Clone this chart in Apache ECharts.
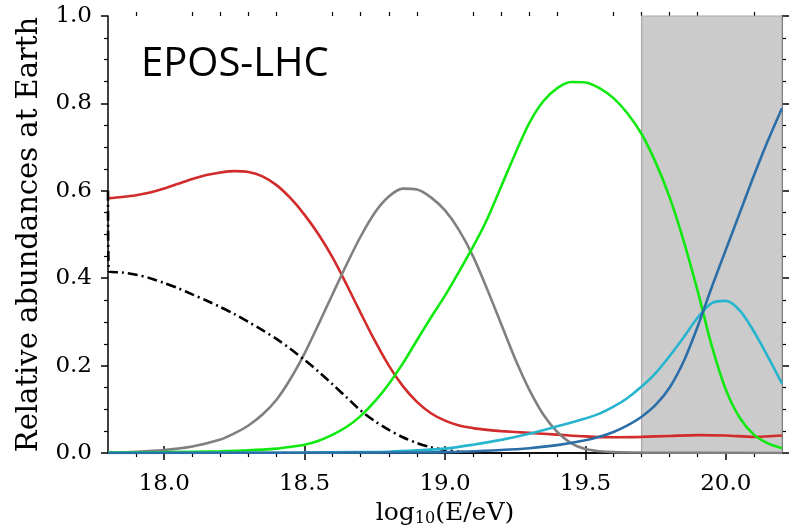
<!DOCTYPE html>
<html>
<head>
<meta charset="utf-8">
<script src="https://cdn.jsdelivr.net/npm/echarts@6/dist/echarts.min.js"></script>
<style>
  html, body { margin: 0; padding: 0; background: #fff; }
  #chart { width: 807px; height: 526px; }
</style>
</head>
<body>
<div id="chart"></div>
<script>
// tick values
const xMajor = [18.0, 18.5, 19.0, 19.5, 20.0];
const xMinor = [17.9, 18.1, 18.2, 18.3, 18.4, 18.6, 18.7, 18.8, 18.9,
  19.1, 19.2, 19.3, 19.4, 19.6, 19.7, 19.8, 19.9, 20.1];
const shadeRange = [19.7, 20.2];

// curves: [log10(E/eV), relative abundance]
const redLine = [[17.8, 0.583], [17.85, 0.586], [17.9, 0.59], [17.95, 0.596], [18.0, 0.605],
  [18.05, 0.616], [18.1, 0.627], [18.15, 0.636], [18.2, 0.642], [18.25, 0.645],
  [18.3, 0.643], [18.35, 0.633], [18.4, 0.613], [18.45, 0.583], [18.5, 0.545],
  [18.55, 0.5], [18.6, 0.447], [18.65, 0.385], [18.7, 0.32], [18.75, 0.257],
  [18.8, 0.2], [18.85, 0.153], [18.9, 0.117], [18.95, 0.091], [19.0, 0.074],
  [19.05, 0.063], [19.1, 0.057], [19.15, 0.053], [19.2, 0.05], [19.3, 0.046],
  [19.4, 0.042], [19.5, 0.038], [19.6, 0.036], [19.7, 0.037], [19.8, 0.039],
  [19.9, 0.041], [20.0, 0.04], [20.1, 0.037], [20.2, 0.04]];
const greyLine = [[17.8, 0.001], [17.9, 0.003], [18.0, 0.007], [18.1, 0.015], [18.2, 0.031],
  [18.25, 0.045], [18.3, 0.063], [18.35, 0.088], [18.4, 0.122], [18.45, 0.17],
  [18.5, 0.228], [18.55, 0.295], [18.6, 0.364], [18.65, 0.432], [18.7, 0.496],
  [18.75, 0.55], [18.8, 0.587], [18.85, 0.605], [18.9, 0.603], [18.95, 0.585],
  [19.0, 0.555], [19.05, 0.51], [19.1, 0.45], [19.15, 0.375], [19.2, 0.295],
  [19.25, 0.215], [19.3, 0.145], [19.35, 0.088], [19.4, 0.048], [19.45, 0.022],
  [19.5, 0.009], [19.55, 0.004], [19.6, 0.002], [19.7, 0.001], [20.2, 0]];
const blackLine = [[17.8, 0.6], [17.803, 0.415], [17.85, 0.413], [17.9, 0.408], [17.95, 0.4],
  [18.0, 0.389], [18.05, 0.377], [18.1, 0.363], [18.15, 0.349], [18.2, 0.334],
  [18.25, 0.318], [18.3, 0.3], [18.35, 0.281], [18.4, 0.261], [18.45, 0.238],
  [18.5, 0.213], [18.55, 0.186], [18.6, 0.157], [18.65, 0.127], [18.7, 0.097],
  [18.75, 0.073], [18.8, 0.053], [18.85, 0.036], [18.9, 0.023], [18.95, 0.013],
  [19.0, 0.007], [19.05, 0.003], [19.1, 0.001]];
const greenLine = [[17.8, 0.001], [18.0, 0.002], [18.2, 0.004], [18.3, 0.006], [18.4, 0.01],
  [18.45, 0.014], [18.5, 0.019], [18.55, 0.028], [18.6, 0.042], [18.65, 0.06],
  [18.7, 0.085], [18.75, 0.118], [18.8, 0.158], [18.85, 0.205], [18.9, 0.258],
  [18.95, 0.31], [19.0, 0.36], [19.05, 0.415], [19.1, 0.472], [19.15, 0.535],
  [19.2, 0.61], [19.25, 0.685], [19.3, 0.755], [19.35, 0.805], [19.4, 0.835],
  [19.45, 0.849], [19.5, 0.848], [19.55, 0.835], [19.6, 0.812], [19.65, 0.777],
  [19.7, 0.73], [19.75, 0.665], [19.8, 0.585], [19.85, 0.485], [19.9, 0.37],
  [19.95, 0.245], [20.0, 0.145], [20.05, 0.08], [20.1, 0.042], [20.15, 0.022], [20.2, 0.011]];
const cyanLine = [[17.8, 0], [18.5, 0.001], [18.7, 0.002], [18.8, 0.003], [18.9, 0.006],
  [19.0, 0.01], [19.1, 0.019], [19.2, 0.03], [19.3, 0.044], [19.4, 0.061],
  [19.5, 0.079], [19.55, 0.09], [19.6, 0.106], [19.65, 0.126], [19.7, 0.152],
  [19.75, 0.183], [19.8, 0.222], [19.85, 0.265], [19.9, 0.31], [19.95, 0.343],
  [20.0, 0.348], [20.05, 0.326], [20.1, 0.278], [20.15, 0.22], [20.2, 0.159]];
const blueLine = [[17.8, 0], [18.8, 0.001], [19.0, 0.002], [19.2, 0.007], [19.3, 0.011],
  [19.4, 0.018], [19.5, 0.029], [19.55, 0.037], [19.6, 0.048], [19.65, 0.063],
  [19.7, 0.083], [19.75, 0.11], [19.8, 0.15], [19.85, 0.21], [19.9, 0.29],
  [19.95, 0.38], [20.0, 0.465], [20.05, 0.55], [20.1, 0.635], [20.15, 0.715], [20.2, 0.789]];

const serif = "DejaVu Serif";
let myChart = echarts.init(document.getElementById("chart"), null, { renderer: "canvas" });

// shared look of the frame axes
const lineAx = { show: true, lineStyle: { color: "#000", width: 1.5 } };
const tickMaj = { show: true, inside: false, length: 7, lineStyle: { color: "#000", width: 1.5 } };
const tickMin = { show: true, inside: false, length: 4, lineStyle: { color: "#000", width: 1.2 } };

function seriesOf(name, data, color, extra) {
  return Object.assign({
    name: name,
    type: "line",
    xAxisIndex: 0,
    yAxisIndex: 0,
    data: data,
    smooth: 0.3,
    showSymbol: false,
    symbol: "none",
    clip: true,
    lineStyle: { color: color, width: 2.6 },
    z: 3,
  }, extra || {});
}

myChart.setOption({
  backgroundColor: "#fff",
  animation: false,
  grid: [
    { left: 108, top: 16, right: 25, bottom: 73, outerBoundsMode: "none" },
    { left: 108, top: 16, right: 25, bottom: 73, outerBoundsMode: "none" },
  ],
  graphic: [{
    type: "text",
    left: 141,
    top: 45,
    style: { text: "EPOS-LHC", font: "40px 'Open Sans'", fill: "#000" },
    z: 10,
  }],
  xAxis: [
    {
      type: "value", gridIndex: 0, position: "bottom", min: 17.8, max: 20.2,
      name: "{a|log}{b|10}{a|(E/eV)}", nameLocation: "middle", nameGap: 42,
      nameTextStyle: {
        rich: {
          a: { fontFamily: serif, fontSize: 25, color: "#000" },
          b: { fontFamily: serif, fontSize: 16, color: "#000", padding: [11, 0, 0, 0] },
        },
      },
      axisLine: lineAx,
      axisTick: Object.assign({ customValues: xMajor }, tickMaj),
      axisLabel: {
        customValues: xMajor, margin: 20, fontFamily: serif, fontSize: 23, color: "#000",
        formatter: (v) => v.toFixed(1),
      },
      splitLine: { show: false },
    },
    {
      type: "value", gridIndex: 0, position: "top", min: 17.8, max: 20.2,
      axisLine: lineAx,
      axisTick: Object.assign({ customValues: xMajor }, tickMaj),
      axisLabel: { show: false },
      splitLine: { show: false },
    },
    {
      type: "value", gridIndex: 1, position: "bottom", min: 17.8, max: 20.2,
      axisLine: { show: false },
      axisTick: Object.assign({ customValues: xMinor }, tickMin),
      axisLabel: { show: false },
      splitLine: { show: false },
    },
    {
      type: "value", gridIndex: 1, position: "top", min: 17.8, max: 20.2,
      axisLine: { show: false },
      axisTick: Object.assign({ customValues: xMinor }, tickMin),
      axisLabel: { show: false },
      splitLine: { show: false },
    },
  ],
  yAxis: [
    {
      type: "value", gridIndex: 0, position: "left", min: 0, max: 1, interval: 0.2,
      name: "Relative abundances at Earth", nameLocation: "middle", nameGap: 64,
      nameTextStyle: { fontFamily: serif, fontSize: 29, color: "#000" },
      axisLine: lineAx,
      axisTick: tickMaj,
      minorTick: { show: true, splitNumber: 4, length: 4, lineStyle: { color: "#000", width: 1.2 } },
      axisLabel: {
        margin: 16, fontFamily: serif, fontSize: 23, color: "#000",
        formatter: (v) => v.toFixed(1),
      },
      splitLine: { show: false },
    },
    {
      type: "value", gridIndex: 0, position: "right", min: 0, max: 1, interval: 0.2,
      axisLine: lineAx,
      axisTick: tickMaj,
      minorTick: { show: true, splitNumber: 4, length: 4, lineStyle: { color: "#000", width: 1.2 } },
      axisLabel: { show: false },
      splitLine: { show: false },
    },
    {
      type: "value", gridIndex: 1, min: 0, max: 1, show: false,
    },
  ],
  series: [
    seriesOf("red", redLine, "#d12b2b", {
      markArea: {
        silent: true,
        itemStyle: { color: "#cbcbcb", borderColor: "#a8a8a8", borderWidth: 1.2 },
        data: [[{ xAxis: shadeRange[0] }, { xAxis: shadeRange[1] }]],
      },
    }),
    seriesOf("grey", greyLine, "#808080"),
    seriesOf("black", blackLine, "#000", {
      lineStyle: { color: "#000", width: 2.6, type: [10, 4, 2, 4] },
    }),
    seriesOf("green", greenLine, "#10e810"),
    seriesOf("cyan", cyanLine, "#27b4cd"),
    seriesOf("blue", blueLine, "#2b6ea8"),
  ],
});
</script>
</body>
</html>
